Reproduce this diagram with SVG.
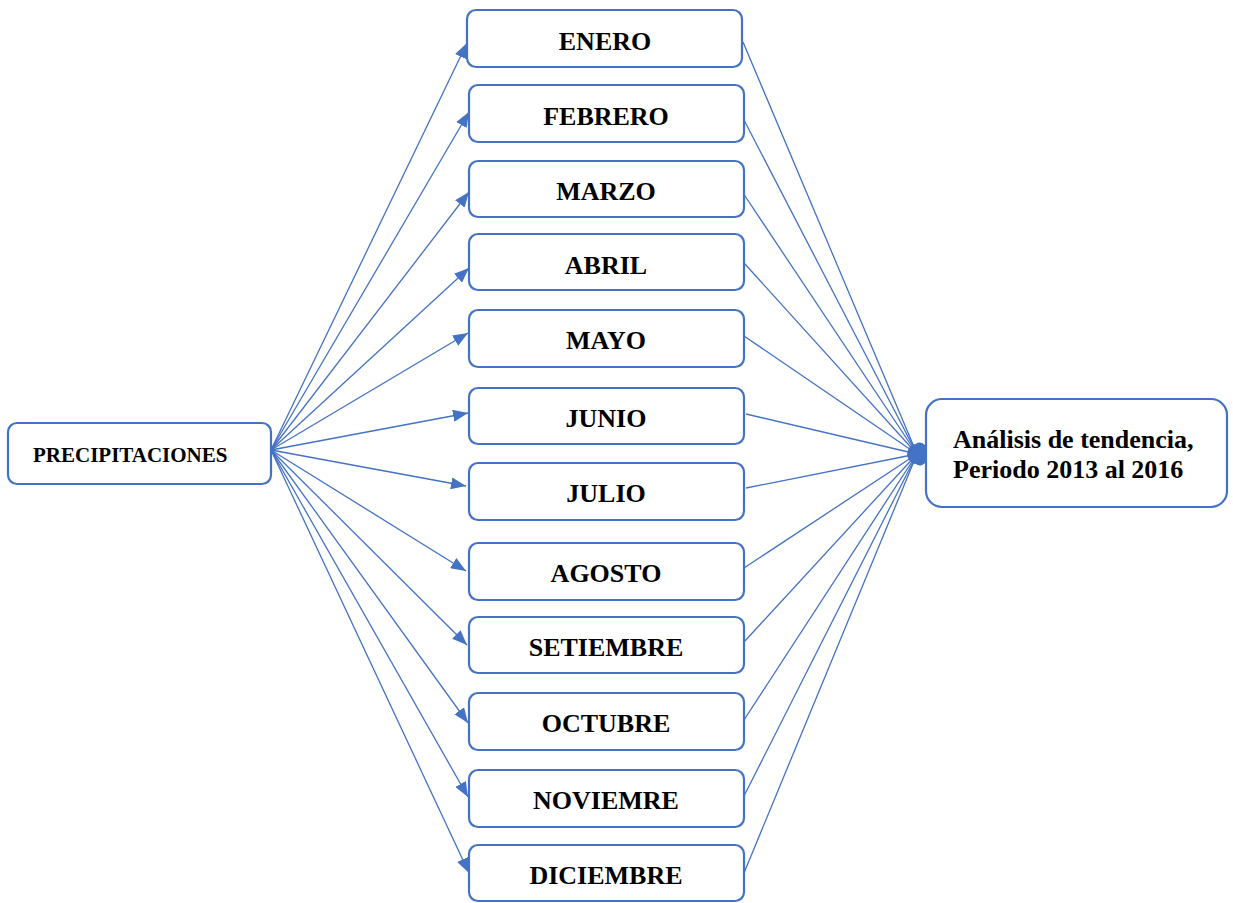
<svg xmlns="http://www.w3.org/2000/svg" width="1233" height="903" viewBox="0 0 1233 903">
<style>
.box{fill:#fff;stroke:#4472C4;stroke-width:2.2}
.t{font-family:"Liberation Serif","Times New Roman",serif;font-weight:bold;fill:#000}
.m{font-size:26px;text-anchor:middle}
.c line{stroke:#4472C4;stroke-width:1.3}
</style>
<defs>
<marker id="arr" markerUnits="userSpaceOnUse" markerWidth="16" markerHeight="12" refX="15" refY="6" orient="auto">
<path d="M0,0 L15,6 L0,12 Z" fill="#4472C4"/>
</marker>
<marker id="oval" markerUnits="userSpaceOnUse" markerWidth="24" markerHeight="16" refX="11" refY="8" orient="auto">
<ellipse cx="12" cy="8" rx="11" ry="7" fill="#4472C4"/>
</marker>
</defs>
<g id="connectors" class="c">
<line x1="271" y1="450" x2="467" y2="43" marker-end="url(#arr)"/>
<line x1="271" y1="450" x2="469" y2="112" marker-end="url(#arr)"/>
<line x1="271" y1="450" x2="469" y2="192" marker-end="url(#arr)"/>
<line x1="271" y1="450" x2="469" y2="268" marker-end="url(#arr)"/>
<line x1="271" y1="450" x2="468" y2="333" marker-end="url(#arr)"/>
<line x1="271" y1="450" x2="468" y2="413" marker-end="url(#arr)"/>
<line x1="271" y1="450" x2="466" y2="486" marker-end="url(#arr)"/>
<line x1="271" y1="450" x2="466" y2="571" marker-end="url(#arr)"/>
<line x1="271" y1="450" x2="467" y2="645" marker-end="url(#arr)"/>
<line x1="271" y1="450" x2="468" y2="723" marker-end="url(#arr)"/>
<line x1="271" y1="450" x2="468" y2="797" marker-end="url(#arr)"/>
<line x1="271" y1="450" x2="469" y2="873" marker-end="url(#arr)"/>
<line x1="743" y1="42" x2="917" y2="454" marker-end="url(#oval)"/>
<line x1="744" y1="120" x2="917" y2="454" marker-end="url(#oval)"/>
<line x1="741" y1="190" x2="917" y2="454" marker-end="url(#oval)"/>
<line x1="744" y1="263" x2="917" y2="454" marker-end="url(#oval)"/>
<line x1="744" y1="336" x2="917" y2="454" marker-end="url(#oval)"/>
<line x1="746" y1="414" x2="917" y2="454" marker-end="url(#oval)"/>
<line x1="746" y1="488" x2="917" y2="454" marker-end="url(#oval)"/>
<line x1="744" y1="568" x2="917" y2="454" marker-end="url(#oval)"/>
<line x1="744" y1="642" x2="917" y2="454" marker-end="url(#oval)"/>
<line x1="744" y1="720" x2="917" y2="454" marker-end="url(#oval)"/>
<line x1="744" y1="796" x2="917" y2="454" marker-end="url(#oval)"/>
<line x1="744" y1="873" x2="917" y2="454" marker-end="url(#oval)"/>
</g>
<g id="precipitaciones">
<rect class="box" x="8" y="423" width="263" height="61" rx="9"/>
<text class="t" x="33" y="462" font-size="21">PRECIPITACIONES</text>
</g>
<g id="enero"><rect class="box" x="467" y="10" width="275" height="57" rx="9"/><text class="t m" x="605" y="50">ENERO</text></g>
<g id="febrero"><rect class="box" x="469" y="85" width="275" height="57" rx="9"/><text class="t m" x="606" y="125">FEBRERO</text></g>
<g id="marzo"><rect class="box" x="469" y="161" width="275" height="56" rx="9"/><text class="t m" x="606" y="200">MARZO</text></g>
<g id="abril"><rect class="box" x="469" y="234" width="275" height="56" rx="9"/><text class="t m" x="606" y="274">ABRIL</text></g>
<g id="mayo"><rect class="box" x="469" y="310" width="275" height="57" rx="9"/><text class="t m" x="606" y="349">MAYO</text></g>
<g id="junio"><rect class="box" x="469" y="388" width="275" height="56" rx="9"/><text class="t m" x="606" y="427">JUNIO</text></g>
<g id="julio"><rect class="box" x="469" y="463" width="275" height="57" rx="9"/><text class="t m" x="606" y="502">JULIO</text></g>
<g id="agosto"><rect class="box" x="469" y="543" width="275" height="57" rx="9"/><text class="t m" x="606" y="582">AGOSTO</text></g>
<g id="setiembre"><rect class="box" x="469" y="617" width="275" height="56" rx="9"/><text class="t m" x="606" y="656">SETIEMBRE</text></g>
<g id="octubre"><rect class="box" x="469" y="693" width="275" height="57" rx="9"/><text class="t m" x="606" y="732">OCTUBRE</text></g>
<g id="noviemre"><rect class="box" x="469" y="770" width="275" height="57" rx="9"/><text class="t m" x="606" y="809">NOVIEMRE</text></g>
<g id="diciembre"><rect class="box" x="469" y="845" width="275" height="56" rx="9"/><text class="t m" x="606" y="884">DICIEMBRE</text></g>
<g id="analisis">
<rect class="box" x="926" y="399" width="301" height="108" rx="16"/>
<text class="t" x="953" y="448" font-size="26">Análisis de tendencia,</text>
<text class="t" x="953" y="478" font-size="26">Periodo 2013 al 2016</text>
</g>
</svg>
